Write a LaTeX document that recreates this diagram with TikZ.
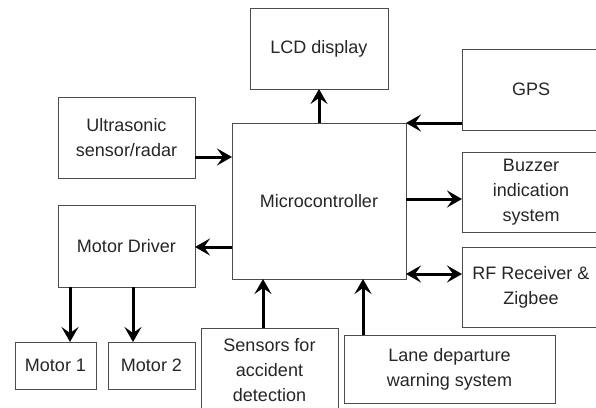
\documentclass[tikz,border=0pt]{standalone}
\usepackage{fontspec}
\setmainfont{Liberation Sans}
\usetikzlibrary{arrows.meta}

\tikzset{
  blk/.style={draw=black!70,line width=0.9pt,fill=white,inner sep=0pt,outer sep=0pt,
    align=center,text=black!85,font=\fontsize{18}{25}\selectfont},
  arr/.style={line width=3pt,-{Stealth[length=15pt,width=17pt,inset=6pt]}},
  biarr/.style={line width=3pt,{Stealth[length=15pt,width=17pt,inset=6pt]}-{Stealth[length=15pt,width=17pt,inset=6pt]}}
}

\begin{document}
\begin{tikzpicture}[x=1pt,y=-1pt] % block diagram, pixel grid
        \useasboundingbox (0,0) rectangle (596,407);
        \clip (0,0) rectangle (596,407);
        \node[blk,minimum width=138,minimum height=81] (lcd) at (319,48.5) {LCD display};
        \node[blk,minimum width=138,minimum height=81] (gps) at (531,89.5) {GPS};
        \node[blk,minimum width=137,minimum height=81] (ultra) at (126.5,137.5) {Ultrasonic\\sensor/radar};
        \node[blk,minimum width=174,minimum height=156] (micro) at (319,201) {Microcontroller};
        \node[blk,minimum width=138,minimum height=80] (buzzer) at (531,192) {Buzzer\\indication\\system};
        \node[blk,minimum width=138,minimum height=80] (rf) at (531,287) {RF Receiver \&\\Zigbee};
        \node[blk,minimum width=137,minimum height=82] (driver) at (126.5,246) {Motor Driver};
        \node[blk,minimum width=81,minimum height=47] (mot1) at (55.5,365.5) {Motor 1};
        \node[blk,minimum width=87,minimum height=47] (mot2) at (151.5,365.5) {Motor 2};
        \node[blk,minimum width=137,minimum height=84] (sens) at (269.5,370) {Sensors for\\accident\\detection};
        \node[blk,minimum width=211,minimum height=68] (lane) at (449.5,369) {Lane departure\\warning system};

        \draw[arr] (micro.north) -- (lcd.south);
        \draw[arr] (gps.west |- 0,123) -- (micro.north east);
        \draw[arr] (ultra.east |- 0,157) -- (micro.west |- 0,157);
        \draw[arr] (micro.east |- 0,199) -- (buzzer.west |- 0,199);
        \draw[biarr] (micro.east |- 0,274) -- (rf.west |- 0,274);
        \draw[arr] (micro.west |- 0,247) -- (driver.east |- 0,247);
        \draw[arr] (driver.south -| 70,0) -- (mot1.north -| 70,0);
        \draw[arr] (driver.south -| 133,0) -- (mot2.north -| 133,0);
        \draw[arr] (sens.north -| 263,0) -- (micro.south -| 263,0);
        \draw[arr] (lane.north -| 363,0) -- (micro.south -| 363,0);
\end{tikzpicture}
\end{document}
